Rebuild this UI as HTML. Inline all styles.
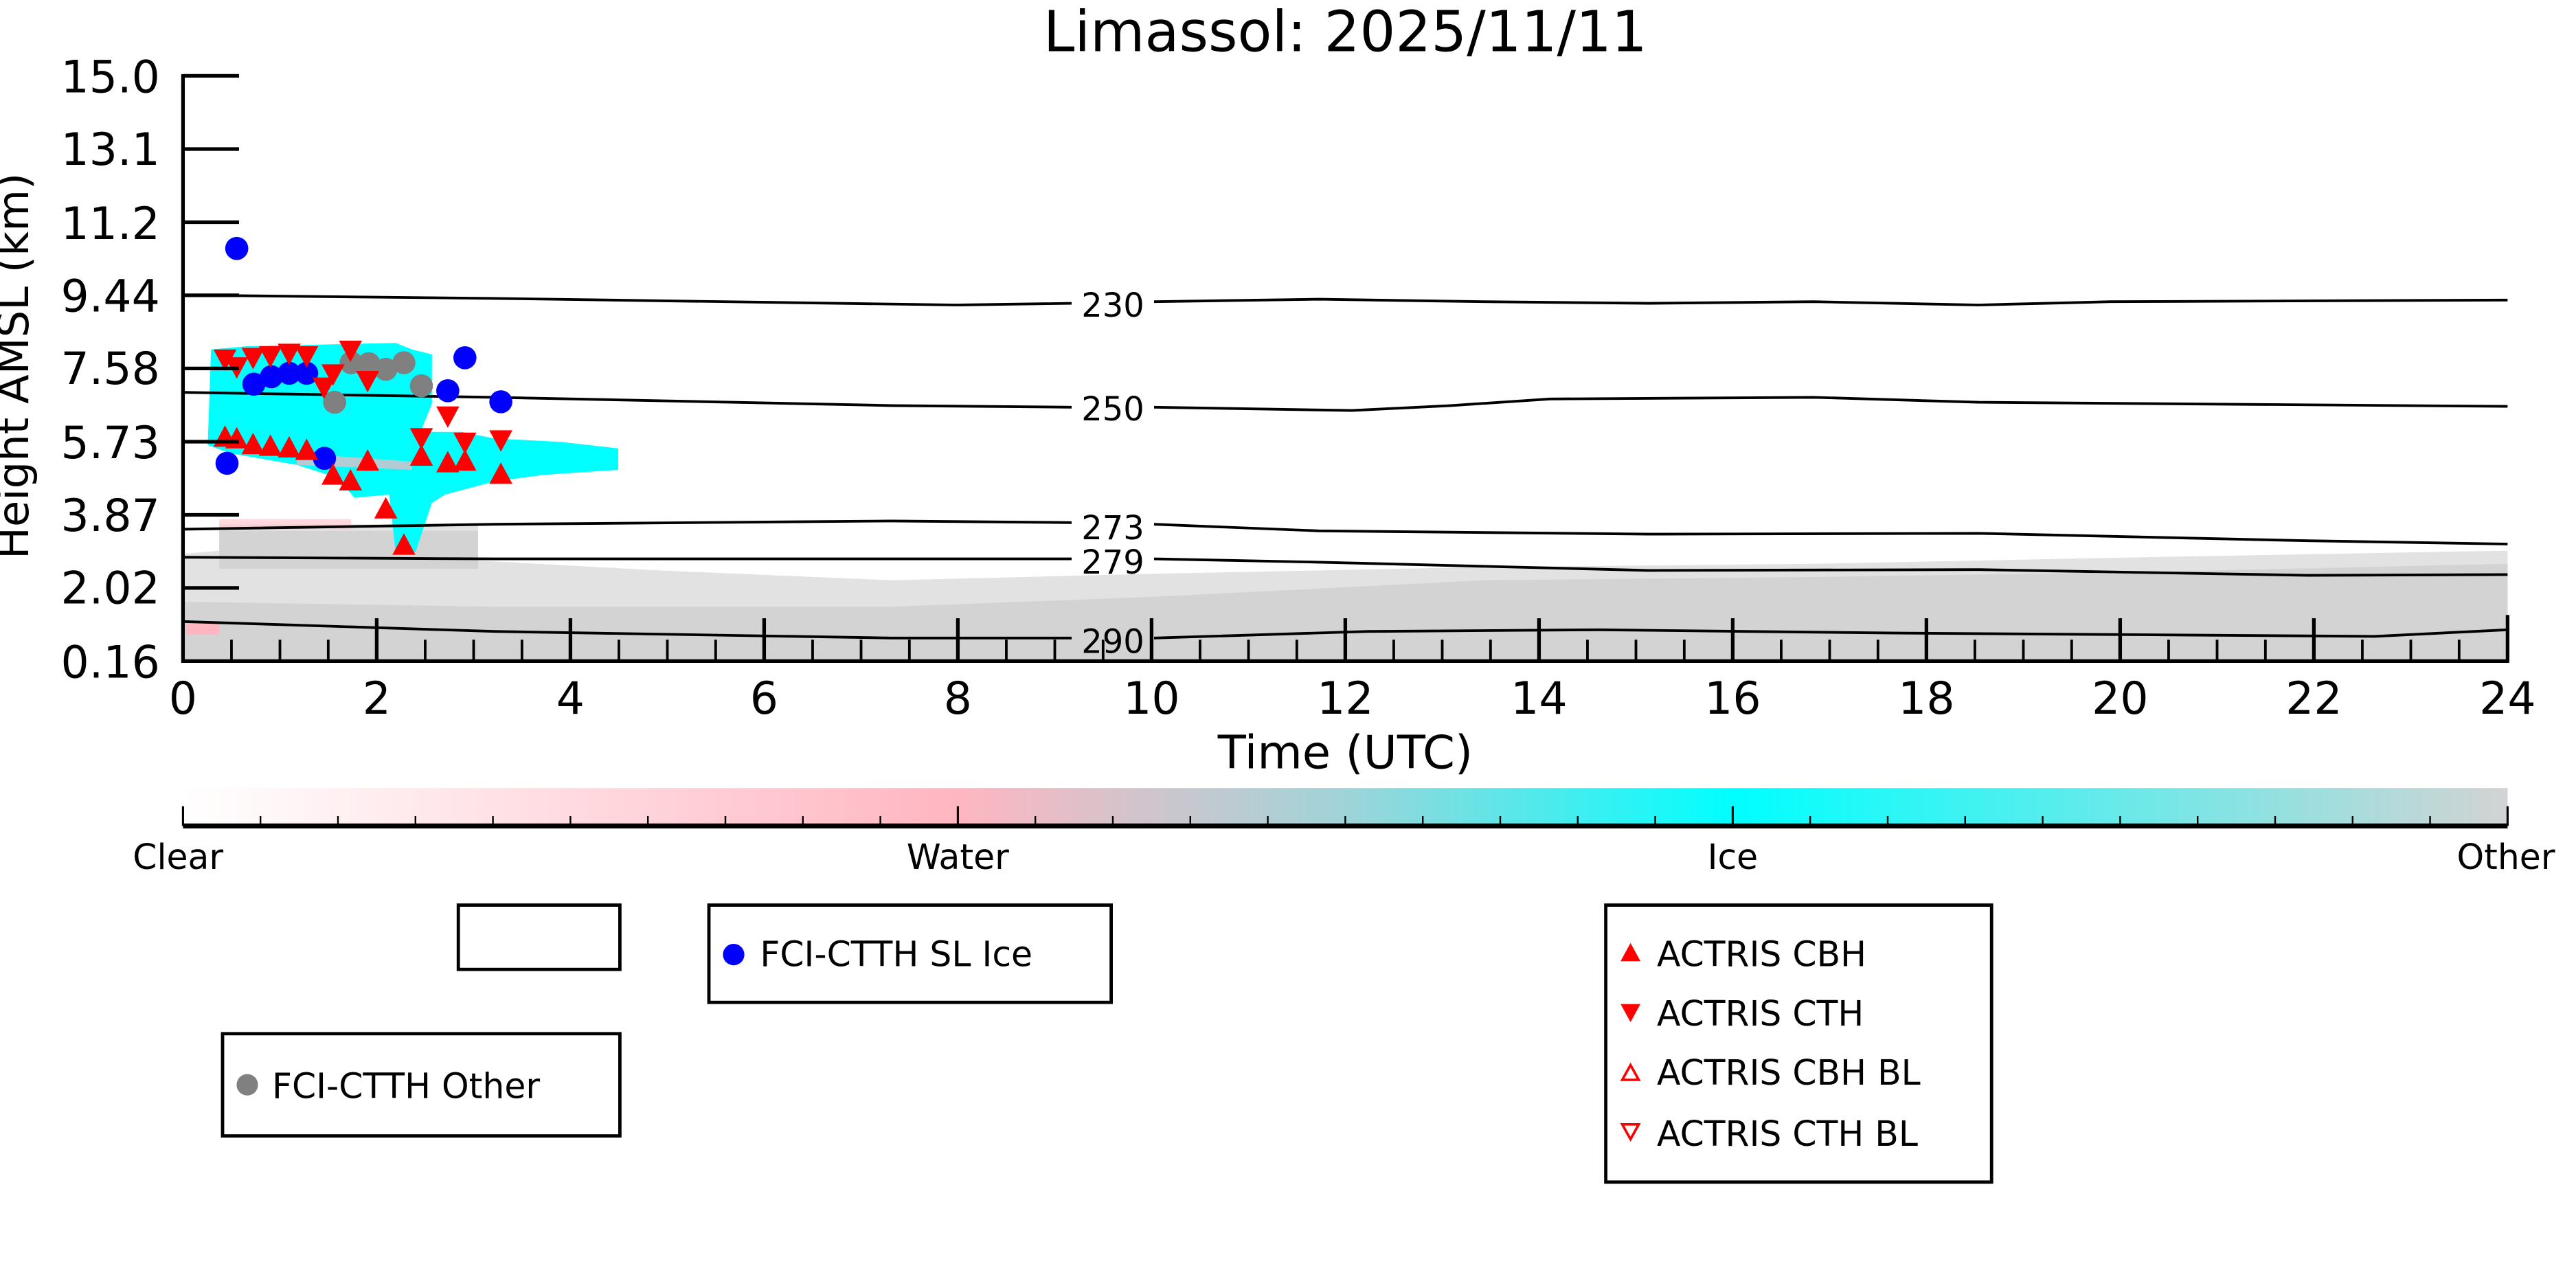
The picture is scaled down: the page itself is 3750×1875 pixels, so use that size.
<!DOCTYPE html>
<html><head><meta charset="utf-8"><style>html,body{margin:0;padding:0;background:#fff}svg{display:block}</style></head>
<body>
<svg width="3750" height="1875" viewBox="0 0 1562.5 781.25" xmlns="http://www.w3.org/2000/svg" font-family="'DejaVu Sans','Liberation Sans',sans-serif">
<defs>
<linearGradient id="cb" x1="0" x2="1" y1="0" y2="0">
<stop offset="0" stop-color="#ffffff"/>
<stop offset="0.333" stop-color="#ffb6c1"/>
<stop offset="0.5" stop-color="#9fd4d8"/>
<stop offset="0.667" stop-color="#00ffff"/>
<stop offset="1" stop-color="#d3d3d3"/>
</linearGradient>
</defs>
<rect width="1562.5" height="781.25" fill="#fff"/>
<text x="816" y="31" font-size="34" text-anchor="middle">Limassol: 2025/11/11</text>

<!-- grey other region -->
<path d="M111,336 L133,334 L133,318 L290,318 L290,340 L400,346 L541,352 L700,348 L900,344 L1100,342 L1300,338 L1521,334 L1521,401 L111,401 Z" fill="#e2e2e2"/>
<path d="M111,365 L300,368 L541,368 L700,362 L900,352 L1100,350 L1300,347 L1521,342 L1521,401 L111,401 Z" fill="#d3d3d3"/>
<path d="M133,322 L290,322 L290,345 L133,345 Z" fill="#d3d3d3"/>
<rect x="113" y="378" width="20" height="7" fill="#ffb6c1"/>
<rect x="133" y="315" width="80" height="6" fill="#ffc8d0" opacity="0.7"/>
<!-- cyan cloud -->
<path d="M128,212 L150,210 L240,208 L250,212 L262,215 L262,245 L255,262 L280,262 L300,266 L340,268 L375,272 L375,285 L330,288 L300,292 L270,300 L262,305 L252,335 L240,335 L236,300 L215,302 L205,290 L180,282 L140,275 L126,270 Z" fill="#00ffff"/>
<path d="M180,275 L250,280 L250,285 L180,282 Z" fill="#ffb6c1" opacity="0.7"/>

<!-- contours -->
<g fill="none" stroke="#000" stroke-width="1.6">
<path d="M111,179 L300,181 L580,185 L650,184 M700,183 L800,181.5 L900,183 L1000,184 L1100,183 L1200,185 L1280,183 L1521,182"/>
<path d="M111,238 L300,241 L541,246 L650,247 M700,247 L820,249 L880,246 L940,242 L1100,241 L1200,244 L1521,246.5"/>
<path d="M111,321 L300,318 L541,316 L650,317 M700,318 L800,322 L1000,324 L1200,323.5 L1400,328 L1521,330"/>
<path d="M111,338 L300,339 L541,339 L650,339 M700,339 L800,341 L1000,346 L1200,345.5 L1400,349 L1521,348.5"/>
<path d="M111,377 L300,383 L541,387 L650,387 M700,387 L830,383 L970,382 L1150,384 L1300,385 L1440,386 L1521,382"/>
</g>
<g font-size="20" text-anchor="middle">
<text x="675" y="192">230</text><text x="675" y="255">250</text><text x="675" y="327">273</text><text x="675" y="348">279</text><text x="675" y="396">290</text>
</g>

<!-- markers -->
<g fill="#0000ff">
<circle cx="143.6" cy="150.7" r="7"/><circle cx="137.7" cy="281" r="7"/><circle cx="154" cy="233" r="7"/><circle cx="164.6" cy="228.5" r="7"/><circle cx="175.4" cy="226.4" r="7"/><circle cx="186" cy="226.4" r="7"/><circle cx="196.8" cy="278" r="7"/><circle cx="271.6" cy="237" r="7"/><circle cx="282" cy="217" r="7"/><circle cx="303.8" cy="243.7" r="7"/>
</g>
<g fill="#808080">
<circle cx="203" cy="244" r="7"/><circle cx="213" cy="220" r="7"/><circle cx="223.7" cy="220.6" r="7"/><circle cx="234" cy="224" r="7"/><circle cx="245" cy="220" r="7"/><circle cx="255.6" cy="234" r="7"/>
</g>
<g fill="#ff0000">
<path d="M129.5,212 h14 l-7,13 z M136.6,216.7 h14 l-7,13 z M146.5,211 h14 l-7,13 z M157,210 h14 l-7,13 z M168.4,208.5 h14 l-7,13 z M179,210 h14 l-7,13 z M189.5,229 h14 l-7,13 z M195,221 h14 l-7,13 z M205.6,206.6 h14 l-7,13 z M216,225 h14 l-7,13 z M248.6,259.7 h14 l-7,13 z M264.6,246.5 h14 l-7,13 z M275,262.4 h14 l-7,13 z M296.8,261 h14 l-7,13 z"/>
<path d="M129.5,271 h14 l-7,-13 z M136.6,272 h14 l-7,-13 z M146.5,275.5 h14 l-7,-13 z M157,276.5 h14 l-7,-13 z M168.4,277.5 h14 l-7,-13 z M179,279 h14 l-7,-13 z M195,294 h14 l-7,-13 z M205.6,297.5 h14 l-7,-13 z M216,285.5 h14 l-7,-13 z M227,314.5 h14 l-7,-13 z M238,336.5 h14 l-7,-13 z M248.6,282.5 h14 l-7,-13 z M264.6,286.5 h14 l-7,-13 z M275,285.5 h14 l-7,-13 z M296.8,293.5 h14 l-7,-13 z"/>
</g>

<!-- axes -->
<g stroke="#000" stroke-width="2.2" fill="none">
<line x1="111" y1="45" x2="111" y2="402"/>
<line x1="110" y1="401" x2="1522" y2="401"/>
<path d="M111,46 h34 M111,90.4 h34 M111,134.8 h34 M111,179.1 h34 M111,223.5 h34 M111,267.9 h34 M111,312.3 h34 M111,356.6 h34"/>
</g>
<g stroke="#000" stroke-width="1.6">
<path d="M140.4,401 v-13 M169.8,401 v-13 M199.1,401 v-13 M257.9,401 v-13 M287.3,401 v-13 M316.6,401 v-13 M375.4,401 v-13 M404.8,401 v-13 M434.1,401 v-13 M492.9,401 v-13 M522.3,401 v-13 M551.6,401 v-13 M610.4,401 v-13 M639.8,401 v-13 M669.1,401 v-13 M727.9,401 v-13 M757.3,401 v-13 M786.6,401 v-13 M845.4,401 v-13 M874.8,401 v-13 M904.1,401 v-13 M962.9,401 v-13 M992.3,401 v-13 M1021.6,401 v-13 M1080.4,401 v-13 M1109.8,401 v-13 M1139.1,401 v-13 M1197.9,401 v-13 M1227.3,401 v-13 M1256.6,401 v-13 M1315.4,401 v-13 M1344.8,401 v-13 M1374.1,401 v-13 M1432.9,401 v-13 M1462.3,401 v-13 M1491.6,401 v-13"/>
<path stroke-width="2.2" d="M228.5,401 v-26 M346,401 v-26 M463.5,401 v-26 M581,401 v-26 M698.5,401 v-26 M816,401 v-26 M933.5,401 v-26 M1051,401 v-26 M1168.5,401 v-26 M1286,401 v-26 M1403.5,401 v-26 M1521,401 v-28"/>
</g>
<g font-size="27" text-anchor="end">
<text x="97" y="56">15.0</text><text x="97" y="100">13.1</text><text x="97" y="145">11.2</text><text x="97" y="189">9.44</text><text x="97" y="233">7.58</text><text x="97" y="278">5.73</text><text x="97" y="322">3.87</text><text x="97" y="366">2.02</text><text x="97" y="411">0.16</text>
</g>
<g font-size="27" text-anchor="middle">
<text x="111" y="433">0</text><text x="228.5" y="433">2</text><text x="346" y="433">4</text><text x="463.5" y="433">6</text><text x="581" y="433">8</text><text x="698.5" y="433">10</text><text x="816" y="433">12</text><text x="933.5" y="433">14</text><text x="1051" y="433">16</text><text x="1168.5" y="433">18</text><text x="1286" y="433">20</text><text x="1403.5" y="433">22</text><text x="1521" y="433">24</text>
</g>
<text x="816" y="466" font-size="28" text-anchor="middle">Time (UTC)</text>
<text transform="translate(17,222) rotate(-90)" font-size="26" text-anchor="middle">Height AMSL (km)</text>

<!-- colorbar -->
<rect x="111" y="478" width="1410" height="23" fill="url(#cb)"/>
<line x1="111" y1="501" x2="1521" y2="501" stroke="#000" stroke-width="3"/>
<g stroke="#000" stroke-width="1">
<path d="M158,501 v-6 M205,501 v-6 M252,501 v-6 M299,501 v-6 M346,501 v-6 M393,501 v-6 M440,501 v-6 M487,501 v-6 M534,501 v-6 M628,501 v-6 M675,501 v-6 M722,501 v-6 M769,501 v-6 M816,501 v-6 M863,501 v-6 M910,501 v-6 M957,501 v-6 M1004,501 v-6 M1098,501 v-6 M1145,501 v-6 M1192,501 v-6 M1239,501 v-6 M1286,501 v-6 M1333,501 v-6 M1380,501 v-6 M1427,501 v-6 M1474,501 v-6"/>
<path d="M111,501 v-12 M581,501 v-12 M1051,501 v-12 M1521,501 v-12" stroke-width="1.3"/>
</g>
<g font-size="21" text-anchor="middle">
<text x="108" y="527">Clear</text><text x="581" y="527">Water</text><text x="1051" y="527">Ice</text><text x="1520" y="527">Other</text>
</g>

<!-- legends -->
<g fill="none" stroke="#000">
<rect x="278" y="549" width="98" height="39" stroke-width="2"/>
<rect x="430" y="549" width="244" height="59" stroke-width="2"/>
<rect x="135" y="627" width="241" height="62" stroke-width="2"/>
<rect x="974" y="549" width="234" height="168" stroke-width="2"/>
</g>
<circle cx="445" cy="579" r="6.5" fill="#0000ff"/>
<circle cx="150" cy="658" r="6.5" fill="#808080"/>
<g font-size="21">
<text x="461" y="586">FCI-CTTH SL Ice</text>
<text x="165" y="666">FCI-CTTH Other</text>
<text x="1005" y="586">ACTRIS CBH</text>
<text x="1005" y="622">ACTRIS CTH</text>
<text x="1005" y="658">ACTRIS CBH BL</text>
<text x="1005" y="695">ACTRIS CTH BL</text>
</g>
<path d="M983,583 h12 l-6,-11 z M983,609 h12 l-6,11 z" fill="#ff0000"/>
<path d="M984,655 h10 l-5,-9 z M984,682 h10 l-5,9 z" fill="none" stroke="#ff0000" stroke-width="1.5"/>
</svg>
</body></html>
